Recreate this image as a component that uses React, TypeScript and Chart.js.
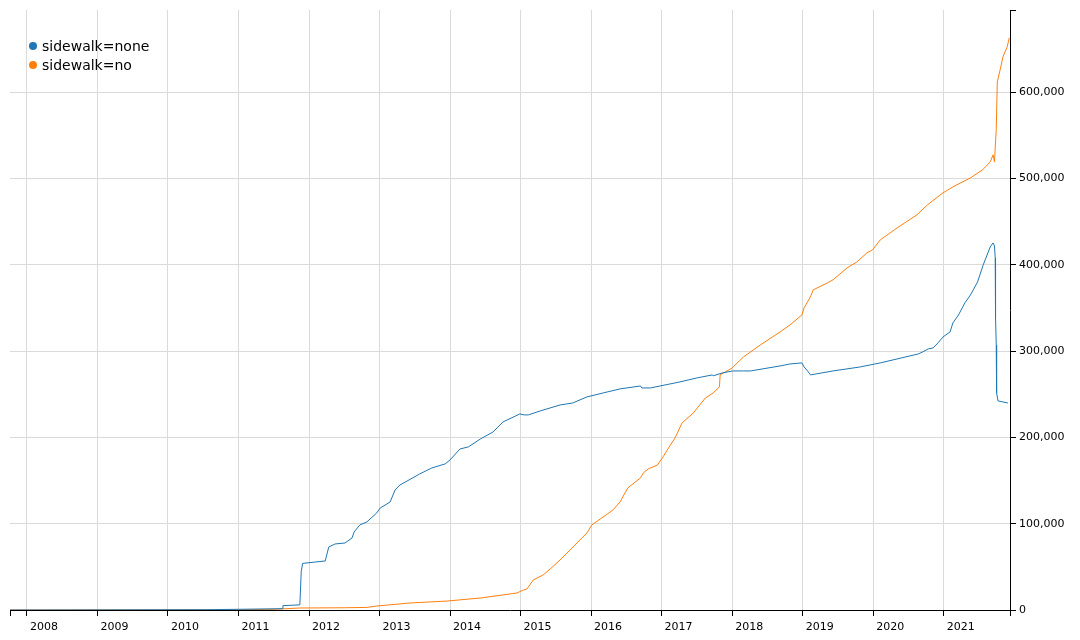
import { useEffect, useRef } from "react";
import { Chart, registerables } from "chart.js";

Chart.register(...registerables);

// decimal years
const X_MIN = 2007.76;
const X_MAX = 2021.94;
const Y_MAX = 695000;

const seriesLabels = ["sidewalk=none", "sidewalk=no"];
const seriesColors = ["#1f77b4", "#ff7f0e"];

const yearTicks = [2008, 2009, 2010, 2011, 2012, 2013, 2014, 2015, 2016, 2017, 2018, 2019, 2020, 2021];
const valueTicks = [0, 100000, 200000, 300000, 400000, 500000, 600000];

const noneYears = [
  2007.76, 2010.5, 2011.0, 2011.62, 2011.63, 2011.87, 2011.89, 2011.91, 2012.23, 2012.28,
  2012.37, 2012.51, 2012.61, 2012.64, 2012.72, 2012.82, 2012.96, 2013.01, 2013.15, 2013.22,
  2013.29, 2013.57, 2013.74, 2013.93, 2014.0, 2014.14, 2014.26, 2014.43, 2014.61, 2014.75,
  2014.99, 2015.05, 2015.11, 2015.28, 2015.56, 2015.74, 2015.94, 2016.17, 2016.41, 2016.7,
  2016.72, 2016.84, 2017.26, 2017.5, 2017.72, 2017.73, 2017.86, 2018.01, 2018.16, 2018.26,
  2018.68, 2018.82, 2018.99, 2019.02, 2019.08, 2019.11, 2019.43, 2019.82, 2020.1, 2020.64,
  2020.7, 2020.78, 2020.85, 2020.92, 2020.99, 2021.09, 2021.13, 2021.21, 2021.3, 2021.38,
  2021.48, 2021.56, 2021.66, 2021.7, 2021.72, 2021.73, 2021.735, 2021.745, 2021.75, 2021.77,
  2021.84, 2021.91,
];
const noneValues = [
  0, 300, 800, 1500, 5000, 6000, 45000, 54000, 56800, 73000,
  76500, 77600, 83400, 90400, 98500, 102000, 112400, 118200, 125100, 139000,
  144800, 157600, 164500, 169200, 173800, 186500, 188900, 198100, 206200, 217800,
  227100, 226000, 226000, 230600, 237500, 239800, 246800, 251400, 256100, 259500,
  257200, 257200, 264200, 268800, 272300, 271200, 274600, 276900, 276900, 276900,
  282700, 285000, 286200, 281600, 275800, 272300, 276900, 281600, 286200, 296600,
  298900, 302400, 303600, 309400, 316300, 322100, 332500, 341800, 355700, 365000,
  380000, 399700, 420600, 425200, 421800, 407900, 339500, 307000, 251400, 242200,
  241000, 239800,
];

const noYears = [
  2007.76, 2011.0, 2011.5, 2011.87, 2012.5, 2012.82, 2012.96, 2013.43, 2013.96, 2014.43,
  2014.95, 2015.04, 2015.09, 2015.18, 2015.32, 2015.42, 2015.56, 2015.7, 2015.94, 2016.01,
  2016.23, 2016.31, 2016.41, 2016.52, 2016.7, 2016.74, 2016.81, 2016.94, 2017.02, 2017.08,
  2017.19, 2017.29, 2017.45, 2017.62, 2017.73, 2017.82, 2017.83, 2018.0, 2018.16, 2018.4,
  2018.68, 2018.82, 2018.99, 2019.02, 2019.11, 2019.15, 2019.35, 2019.43, 2019.63, 2019.77,
  2019.91, 2019.99, 2020.1, 2020.34, 2020.62, 2020.77, 2020.99, 2021.13, 2021.38, 2021.55,
  2021.66, 2021.7, 2021.72, 2021.73, 2021.745, 2021.76, 2021.8, 2021.84, 2021.9, 2021.93,
];
const noValues = [
  0, 300, 800, 2300, 2600, 3000, 4600, 8100, 10400, 13900,
  19700, 23200, 24300, 34800, 40600, 47500, 57900, 69500, 89200, 98500,
  111200, 115900, 125100, 141400, 152900, 158700, 163400, 168000, 177300, 185400,
  199300, 216700, 228300, 245600, 251400, 258400, 272300, 280400, 293100, 307000,
  322100, 330200, 341800, 349900, 362700, 370800, 378900, 382400, 396300, 403200,
  413600, 417100, 428700, 442600, 457700, 469300, 483200, 490100, 500600, 509800,
  519100, 527200, 519100, 535300, 556200, 611800, 625700, 640700, 652300, 662800,
];

const toPoints = (xs: number[], ys: number[]) => xs.map((x, i) => ({ x, y: ys[i] }));

const FONT = "'DejaVu Sans', sans-serif";

export default function App() {
  const chartRef = useRef<HTMLCanvasElement>(null);
  const chartInstance = useRef<Chart | null>(null);

  useEffect(() => {
    if (!chartRef.current) return;
    if (chartInstance.current) chartInstance.current.destroy();

    // legend drawn inside the plot area, top left
    const insideLegend = {
      id: "insideLegend",
      afterDraw(chart: any) {
        const { ctx, chartArea } = chart;
        ctx.save();
        ctx.font = `14px ${FONT}`;
        ctx.textBaseline = "middle";
        ctx.textAlign = "left";
        seriesLabels.forEach((label, i) => {
          const cy = chartArea.top + 36 + i * 19;
          ctx.beginPath();
          ctx.arc(chartArea.left + 23, cy, 4, 0, Math.PI * 2);
          ctx.fillStyle = seriesColors[i];
          ctx.fill();
          ctx.fillStyle = "#000";
          ctx.fillText(label, chartArea.left + 32, cy + 1);
        });
        ctx.restore();
      },
    };

    const ctx = chartRef.current.getContext("2d");
    if (ctx) {
      chartInstance.current = new Chart(ctx, {
        type: "line",
        data: {
          datasets: [
            {
              label: seriesLabels[0],
              data: toPoints(noneYears, noneValues),
              borderColor: seriesColors[0],
              backgroundColor: seriesColors[0],
              borderWidth: 1,
              pointRadius: 0,
              tension: 0,
            },
            {
              label: seriesLabels[1],
              data: toPoints(noYears, noValues),
              borderColor: seriesColors[1],
              backgroundColor: seriesColors[1],
              borderWidth: 1,
              pointRadius: 0,
              tension: 0,
            },
          ],
        },
        options: {
          responsive: true,
          maintainAspectRatio: false,
          animation: false,
          layout: { padding: { left: 10, top: 10, right: 0, bottom: 0 } },
          font: { family: FONT, size: 11 },
          scales: {
            x: {
              type: "linear",
              position: "bottom",
              min: X_MIN,
              max: X_MAX,
              border: { color: "#000", width: 1 },
              grid: {
                color: (c: any) =>
                  c.tick && Number.isInteger(c.tick.value) ? "#dadada" : "rgba(0,0,0,0)",
                tickColor: "#000",
                tickLength: 6,
              },
              ticks: {
                color: "#000",
                font: { family: FONT, size: 11 },
                padding: 5,
                labelOffset: 17,
                maxRotation: 0,
                autoSkip: false,
                callback: (v: any) => (Number.isInteger(v) ? String(v) : ""),
              },
              afterBuildTicks: (axis: any) => {
                axis.ticks = [X_MIN, ...yearTicks, X_MAX].map((value) => ({ value }));
              },
              afterFit: (axis: any) => {
                axis.height = 30;
              },
            },
            y: {
              type: "linear",
              position: "right",
              min: 0,
              max: Y_MAX,
              border: { color: "#000", width: 1 },
              grid: {
                color: (c: any) =>
                  c.tick && c.tick.value % 100000 === 0 ? "#dadada" : "rgba(0,0,0,0)",
                tickColor: "#000",
                tickLength: 6,
              },
              ticks: {
                color: "#000",
                font: { family: FONT, size: 11 },
                padding: 3,
                autoSkip: false,
                callback: (v: any) => (v % 100000 === 0 ? Number(v).toLocaleString("en-US") : ""),
              },
              afterBuildTicks: (axis: any) => {
                axis.ticks = [...valueTicks, Y_MAX].map((value) => ({ value }));
              },
              afterFit: (axis: any) => {
                axis.width = 70;
              },
            },
          },
          plugins: {
            legend: { display: false },
            tooltip: { enabled: false },
            title: { display: false },
          },
        },
        plugins: [insideLegend],
      });
    }

    return () => {
      if (chartInstance.current) {
        chartInstance.current.destroy();
        chartInstance.current = null;
      }
    };
  }, []);

  return (
    <div style={{ position: "absolute", left: 0, top: 0, width: 1080, height: 640, background: "#fff" }}>
      <canvas ref={chartRef}></canvas>
    </div>
  );
}
